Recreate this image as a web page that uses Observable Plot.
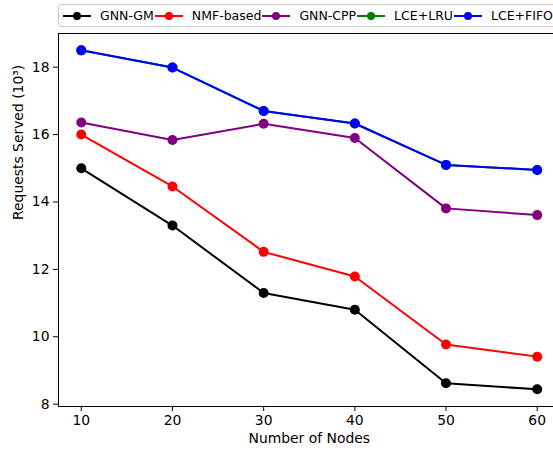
<!DOCTYPE html>
<html><head><meta charset="utf-8">
<script src="https://cdn.jsdelivr.net/npm/d3@7"></script>
<script src="https://cdn.jsdelivr.net/npm/@observablehq/plot@0.6"></script>
<style>
html,body{margin:0;padding:0;background:#fff;overflow:hidden;}
#wrap{width:553px;height:454px;overflow:hidden;font-family:"DejaVu Sans",sans-serif;}
#legendRow{position:relative;width:553px;height:28px;}
#legend{position:absolute;left:58px;top:4px;height:21px;border:1px solid #cccccc;border-radius:3px;display:flex;align-items:center;white-space:nowrap;padding-left:4px;padding-right:8px;font-size:12.5px;color:#000;background:#fff;}
.item{display:flex;align-items:center;margin-right:1px;}
.item svg{margin-right:9px;display:block;}
</style>
</head><body>
<div id="wrap"><div id="legendRow"><div id="legend"></div></div><div id="chart"></div></div>
<script>
const xNodes = [10, 20, 30, 40, 50, 60];
const gnnGM   = [15.0, 13.3, 11.3, 10.8, 8.62, 8.44];
const nmf     = [16.0, 14.46, 12.52, 11.79, 9.77, 9.41];
const gnnCPP  = [16.36, 15.84, 16.32, 15.9, 13.81, 13.61];
const lceLRU  = [18.5, 17.99, 16.7, 16.33, 15.1, 14.95];
const lceFIFO = [18.5, 17.99, 16.7, 16.33, 15.1, 14.95];
const seriesNames = ["GNN-GM", "NMF-based", "GNN-CPP", "LCE+LRU", "LCE+FIFO"];
const seriesColors = ["#000000", "#ff0000", "#800080", "#008000", "#0000ff"];
const seriesValues = [gnnGM, nmf, gnnCPP, lceLRU, lceFIFO];
const xTicks = [10, 20, 30, 40, 50, 60];
const yTicks = [8, 10, 12, 14, 16, 18];
const xLabel = "Number of Nodes";
const yLabel = "Requests Served (10³)";

const rows = seriesNames.flatMap((s, i) => xNodes.map((x, j) => ({series: s, x, y: seriesValues[i][j]})));

// legend
const legend = document.getElementById("legend");
seriesNames.forEach((s, i) => {
  const it = document.createElement("div");
  it.className = "item";
  it.innerHTML = `<svg width="28" height="12"><line x1="0" y1="6" x2="28" y2="6" stroke="${seriesColors[i]}" stroke-width="2"/><circle cx="14" cy="6" r="4" fill="${seriesColors[i]}"/></svg><span>${s}</span>`;
  legend.appendChild(it);
});

const font = "DejaVu Sans";
const fs = 13.9;
const marks = [];
seriesNames.forEach((s, i) => {
  const d = rows.filter(r => r.series === s);
  marks.push(Plot.line(d, {x: "x", y: "y", stroke: seriesColors[i], strokeWidth: 2, strokeLinejoin: "round"}));
  marks.push(Plot.dot(d, {x: "x", y: "y", r: 5, fill: seriesColors[i], stroke: "none"}));
});

const chart = Plot.plot({
  width: 562,
  height: 426,
  marginLeft: 58,
  marginRight: 2.5,
  marginTop: 5,
  marginBottom: 48,
  style: {fontFamily: font, background: "#fff", maxWidth: "none", overflow: "visible"},
  x: {domain: [7.5, 62.5]},
  y: {domain: [7.93, 19.0]},
  marks: [
    Plot.axisX({ticks: xTicks, tickSize: 5, tickPadding: 4, fontSize: fs, label: null, stroke: "#000", color: "#000"}),
    Plot.axisY({ticks: yTicks, tickSize: 5, tickPadding: 4, fontSize: fs, label: null, stroke: "#000", color: "#000"}),
    ...marks,
    Plot.frame({stroke: "#000", strokeWidth: 1}),
    Plot.text([xLabel], {frameAnchor: "bottom", dy: 36, fontSize: fs, fill: "#000", text: d => d}),
    Plot.text([yLabel], {frameAnchor: "left", dx: -40, rotate: -90, fontSize: fs, fill: "#000", text: d => d})
  ]
});
document.getElementById("chart").appendChild(chart);
</script>
</body></html>
